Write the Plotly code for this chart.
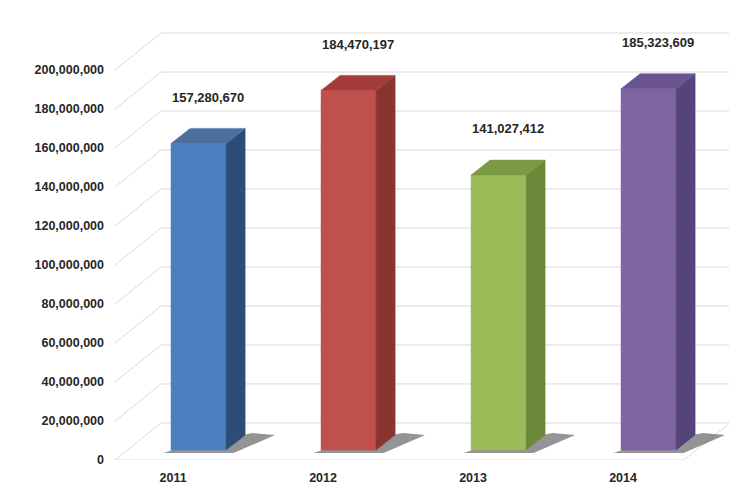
import plotly.graph_objects as go

years = ["2011", "2012", "2013", "2014"]
values = [157280670, 184470197, 141027412, 185323609]
front_colors = ["#4a7fc1", "#c0504d", "#9bbb59", "#8064a2"]
side_colors = ["#2c4d78", "#8a3431", "#6a8a3a", "#56437a"]
top_colors = ["#4c6f9f", "#a33b38", "#7c9a46", "#6b5590"]
ticks = list(range(0, 200000001, 20000000))

M = 1e6
wall_dx, wall_dy = 0.307, 19 * M   # back wall offset
bar_dx, bar_dy = 0.127, 7.7 * M    # bar depth
base = 5.1 * M
bw = 0.367
x_left, x_right = -0.387, 3.713

fig = go.Figure()

# back wall grid lines with diagonal on the side wall
for v in ticks:
    fig.add_trace(go.Scatter(
        x=[x_left, x_left + wall_dx, x_right], y=[v, v + wall_dy, v + wall_dy],
        mode="lines", line=dict(color="#d9d9d9", width=1),
        hoverinfo="skip", showlegend=False))
# floor front edge and right edge
fig.add_trace(go.Scatter(
    x=[x_left, x_right - wall_dx, x_right], y=[0, 0, wall_dy],
    mode="lines", line=dict(color="#d9d9d9", width=1),
    hoverinfo="skip", showlegend=False))

for i, v in enumerate(values):
    x0 = i + 0.17 - bw / 2
    x1 = i + 0.17 + bw / 2
    # shadow on the floor
    fig.add_trace(go.Scatter(
        x=[x0 - 0.05, x1 + 0.05, x1 + bar_dx + 0.2, x1 + bar_dx + 0.05, x0 + 0.05],
        y=[base - 1.5 * M, base - 1.5 * M, base + bar_dy, base + bar_dy + 1 * M, base + 1 * M],
        fill="toself", fillcolor="rgba(60,60,60,0.55)", mode="none",
        hoverinfo="skip", showlegend=False))
    top = base + v
    # front face
    fig.add_trace(go.Scatter(
        x=[x0, x1, x1, x0, x0], y=[base, base, top, top, base],
        fill="toself", fillcolor=front_colors[i], mode="lines",
        line=dict(color=front_colors[i], width=0.5),
        hoverinfo="skip", showlegend=False))
    # side face
    fig.add_trace(go.Scatter(
        x=[x1, x1 + bar_dx, x1 + bar_dx, x1, x1],
        y=[base, base + bar_dy, top + bar_dy, top, base],
        fill="toself", fillcolor=side_colors[i], mode="lines",
        line=dict(color=side_colors[i], width=0.5),
        hoverinfo="skip", showlegend=False))
    # top face
    fig.add_trace(go.Scatter(
        x=[x0, x1, x1 + bar_dx, x0 + bar_dx, x0],
        y=[top, top, top + bar_dy, top + bar_dy, top],
        fill="toself", fillcolor=top_colors[i], mode="lines",
        line=dict(color=top_colors[i], width=0.5),
        hoverinfo="skip", showlegend=False))
    fig.add_annotation(
        x=i + 0.17 + 0.06, y=top + bar_dy + 16 * M, text=f"{v:,}",
        showarrow=False, font=dict(size=13, color="#262626",
                                   family="Liberation Sans", weight="bold"))

fig.update_layout(
    width=737, height=496,
    margin=dict(l=107, r=15, t=10, b=44, autoexpand=False),
    paper_bgcolor="white", plot_bgcolor="white",
    font=dict(family="Liberation Sans", size=12.5, color="#262626"),
    xaxis=dict(range=[x_left, x_right], tickvals=list(range(len(years))),
               ticktext=years, showgrid=False, zeroline=False, automargin=False,
               tickfont=dict(weight="bold"), ticklabelstandoff=8),
    yaxis=dict(range=[0, 226.7 * M], tickvals=ticks, automargin=False,
               ticktext=[f"{t:,}" for t in ticks], showgrid=False,
               zeroline=False, tickfont=dict(weight="bold"),
               ticklabelstandoff=10),
)

fig.write_html("out.html")
